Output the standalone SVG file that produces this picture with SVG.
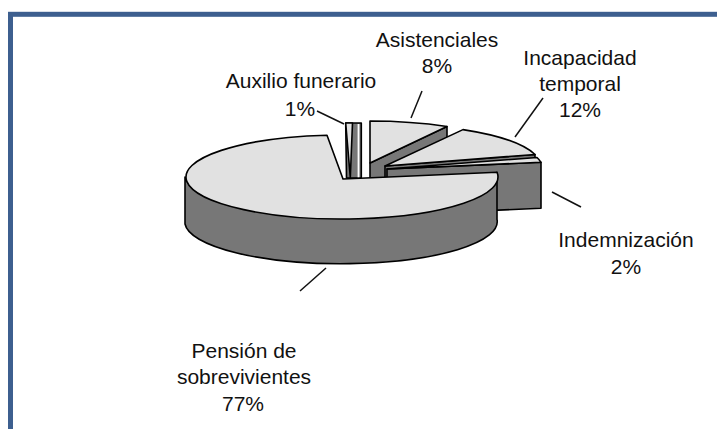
<svg xmlns="http://www.w3.org/2000/svg" width="717" height="429" viewBox="0 0 717 429">
<style>
.top{fill:#e1e1e1;stroke:#000;stroke-width:1.6;stroke-linejoin:round}
.side{fill:#777;stroke:#000;stroke-width:1.6;stroke-linejoin:round}
.lbl{font-family:"Liberation Sans",Arial,sans-serif;font-size:21px;fill:#111;text-anchor:middle}
.lead{stroke:#111;stroke-width:1.5;fill:none}
</style>
<rect width="717" height="429" fill="#fff"/>
<rect id="frame" x="10.5" y="14.3" width="760" height="460" fill="none" stroke="#3d5f8f" stroke-width="5"/>

<g id="auxilio">
<path class="side" d="M345.7,123 L361.3,123 L361.3,178 L346.5,178 Z"/>
<path class="top" d="M345.7,123 L352.5,123 L350.3,177.5 Z"/>
<path d="M357.6,124 L359.4,124 L359.4,177.5 L357.6,177.5 Z" fill="#fff"/>
</g>

<g id="asistenciales">
<path class="side" d="M370,163 L447,126.5 L447,172.5 L370,209 Z"/>
<path class="top" d="M370,163 L370,121 A156,42 0 0 1 447,126.5 Z"/>
</g>

<g id="incapacidad">
<path class="side" d="M385,166 L535,154.5 L535,200.5 L385,212 Z"/>
<path class="top" d="M385,166 L463,129.6 A156,42 0 0 1 535,154.5 Z"/>
</g>

<g id="indemnizacion">
<path class="side" d="M387,169 L541,162.3 L541,208.3 L387,215 Z"/>
<path class="top" d="M387,169 L537,157.5 A156,42 0 0 1 541,162.3 Z"/>
</g>

<g id="pension">
<path class="side" d="M497,172.3 L497,219.3 A156,42 0 1 1 185,224 L185,177 A156,42 0 1 0 497,172.3 Z"/>
<path class="top" d="M343,179 L327,135.2 A156,42 0 1 0 497,172.3 Z"/>
</g>

<g id="connectors">
<line class="lead" x1="411" y1="118" x2="422" y2="91"/>
<line class="lead" x1="515" y1="137" x2="543" y2="98"/>
<line class="lead" x1="317" y1="111" x2="344" y2="124"/>
<line class="lead" x1="552" y1="192" x2="581" y2="207"/>
<line class="lead" x1="300" y1="291" x2="326" y2="268"/>
</g>

<g id="labels">
<text class="lbl" x="437" y="47">Asistenciales</text>
<text class="lbl" x="437" y="73">8%</text>
<text class="lbl" x="580" y="65">Incapacidad</text>
<text class="lbl" x="580" y="91">temporal</text>
<text class="lbl" x="580" y="117">12%</text>
<text class="lbl" x="301" y="88">Auxilio funerario</text>
<text class="lbl" x="300" y="116">1%</text>
<text class="lbl" x="626" y="247">Indemnización</text>
<text class="lbl" x="626" y="274">2%</text>
<text class="lbl" x="244" y="357.5">Pensión de</text>
<text class="lbl" x="244" y="384">sobrevivientes</text>
<text class="lbl" x="243" y="410.5">77%</text>
</g>
</svg>
